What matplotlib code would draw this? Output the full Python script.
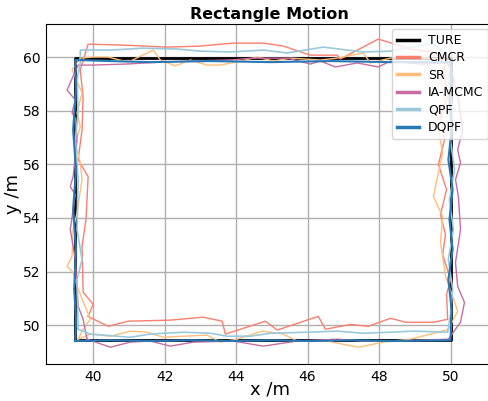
import numpy as np
from matplotlib import pyplot as plt

# true rectangle corners
ture_x = [39.5, 50.0, 50.0, 39.5, 39.5]
ture_y = [49.45, 49.45, 59.95, 59.95, 49.45]

# estimated tracks, one lap each (bottom -> right -> top -> left)
cmcr_x = [39.86, 40.42, 40.98, 42.16, 43.08, 43.61, 43.70, 44.82, 45.15, 46.30, 46.50, 47.20, 47.70, 48.32, 48.74, 49.52, 49.92,
          49.89, 50.00, 49.78, 49.86, 49.72, 49.89, 49.66, 49.83, 49.72, 49.94, 49.80, 49.86,
          49.44, 48.88, 47.98, 46.92, 46.83, 46.08, 45.32, 44.76, 43.92, 43.00, 42.07, 40.76, 39.86,
          39.64, 39.72, 39.69, 39.58, 39.86, 39.80, 39.69, 39.72, 40.00, 39.86]
cmcr_y = [50.33, 49.96, 50.15, 50.19, 50.30, 50.15, 49.67, 50.15, 49.82, 50.33, 49.85, 50.03, 49.96, 50.26, 50.11, 50.11, 50.22,
          51.15, 51.70, 52.64, 53.38, 54.13, 55.06, 55.99, 56.91, 57.84, 58.59, 59.33, 59.90,
          60.19, 60.30, 60.67, 59.93, 60.07, 60.07, 60.41, 60.52, 60.52, 60.41, 60.37, 60.45, 60.48,
          59.52, 58.51, 57.29, 56.17, 55.54, 53.94, 52.94, 51.23, 50.78, 50.33]

sr_x = [39.58, 39.92, 40.48, 41.04, 41.51, 41.96, 42.52, 43.19, 43.56, 44.03, 44.73, 45.32, 45.71, 46.55, 47.42, 48.12, 48.88, 49.66,
        49.94, 50.20, 50.06, 49.86, 49.72, 49.78, 49.52, 49.78, 49.66, 49.86, 49.72, 49.86,
        49.44, 48.32, 47.76, 47.56, 46.83, 46.36, 45.52, 45.04, 44.60, 44.12, 43.56, 43.19, 42.72, 42.30, 41.88, 41.68, 40.98, 40.42, 40.00, 39.64,
        39.41, 39.69, 39.55, 39.64, 39.50, 39.64, 39.69, 39.55, 39.44, 39.41, 39.27, 39.44, 39.55, 39.92, 39.72, 39.58]
sr_y = [49.48, 49.67, 49.59, 49.78, 49.74, 49.55, 49.59, 49.63, 49.37, 49.48, 49.78, 49.67, 49.41, 49.41, 49.18, 49.37, 49.48, 49.74,
        49.85, 50.52, 51.08, 51.82, 53.09, 54.05, 54.80, 56.43, 57.29, 58.22, 59.14, 59.89,
        59.96, 59.96, 59.78, 60.15, 59.96, 59.89, 59.96, 59.85, 60.00, 59.85, 59.70, 59.70, 59.89, 59.67, 59.89, 60.26, 59.81, 60.00, 60.00, 59.96,
        59.52, 58.66, 57.92, 57.40, 56.80, 56.06, 55.43, 54.20, 53.57, 52.57, 52.20, 51.97, 51.45, 50.22, 49.85, 49.48]

ia_x = [39.83, 40.48, 41.04, 41.60, 42.16, 42.80, 43.92, 44.76, 45.71, 46.83, 47.56, 48.32, 49.16, 49.94,
        50.28, 50.39, 50.20, 50.14, 50.28, 50.22, 50.14, 50.28, 50.20, 50.34, 50.22, 50.06, 49.92,
        49.16, 48.32, 47.98, 47.39, 46.78, 46.36, 46.08, 45.43, 44.48, 43.84, 42.80, 41.88, 40.95, 40.00, 39.58,
        39.27, 39.50, 39.41, 39.50, 39.55, 39.44, 39.36, 39.50, 39.36, 39.44, 39.50, 39.58, 39.72, 39.83]
ia_y = [49.48, 49.18, 49.37, 49.41, 49.22, 49.37, 49.41, 49.22, 49.41, 49.48, 49.41, 49.41, 49.44, 49.48,
        50.11, 50.85, 51.45, 52.34, 53.57, 54.80, 55.43, 56.06, 56.54, 57.29, 58.40, 59.33, 59.78,
        59.74, 59.85, 59.63, 59.78, 59.63, 59.85, 59.74, 59.96, 59.96, 59.89, 59.85, 59.81, 59.74, 59.70, 59.70,
        58.77, 58.40, 57.92, 57.73, 56.91, 55.54, 55.17, 54.87, 53.57, 52.94, 52.45, 50.71, 50.22, 49.48]

qpf_x = [39.58, 39.92, 41.04, 41.60, 42.52, 43.28, 43.75, 44.40, 44.96, 45.99, 46.83, 47.56, 48.32, 48.96, 49.92,
         50.00, 50.06, 49.94, 50.08, 49.97, 50.11, 50.00, 50.06, 49.94, 50.00,
         49.52, 48.32, 47.56, 47.11, 46.44, 45.43, 44.76, 43.84, 43.00, 42.35, 41.40, 40.48, 39.64,
         39.64, 39.55, 39.58, 39.50, 39.58, 39.55, 39.69, 39.55, 39.58]
qpf_y = [49.85, 49.67, 49.55, 49.67, 49.74, 49.70, 49.59, 49.59, 49.70, 49.74, 49.78, 49.70, 49.74, 49.78, 49.74,
         50.41, 51.34, 52.45, 53.57, 54.68, 55.80, 56.91, 58.03, 59.14, 59.89,
         60.52, 60.22, 60.19, 60.26, 60.37, 60.15, 60.26, 60.19, 60.22, 60.30, 60.33, 60.26, 60.26,
         59.78, 59.15, 57.92, 56.91, 55.43, 53.57, 52.45, 51.71, 49.85]

dqpf_x = [39.50, 40.48, 41.60, 42.72, 43.84, 44.96, 46.08, 47.20, 48.32, 50.00,
          50.03, 49.94, 50.06, 49.97, 50.06, 49.94, 50.03, 49.97, 50.03, 50.00,
          48.32, 46.64, 44.96, 43.28, 41.60, 40.48, 39.50,
          39.52, 39.44, 39.52, 39.44, 39.52, 39.47, 39.52, 39.50]
dqpf_y = [49.41, 49.44, 49.41, 49.44, 49.41, 49.44, 49.41, 49.44, 49.41, 49.44,
          50.59, 51.71, 52.83, 53.94, 55.06, 56.17, 57.29, 58.40, 59.33, 59.81,
          59.81, 59.85, 59.81, 59.85, 59.81, 59.85, 59.89,
          58.77, 57.29, 55.80, 54.31, 52.83, 51.34, 50.22, 49.41]

fig = plt.figure(figsize=(4.89, 4.01), dpi=100)
ax = fig.add_axes([0.094, 0.092, 0.915, 0.848])

ax.plot(ture_x, ture_y, color="black", lw=2, label="TURE")
ax.plot(cmcr_x, cmcr_y, color="#FA7F6F", lw=1, label="CMCR")
ax.plot(sr_x, sr_y, color="#FFBE7A", lw=1, label="SR")
ax.plot(ia_x, ia_y, color="#C76DA2", lw=1, label="IA-MCMC")
ax.plot(qpf_x, qpf_y, color="#9AC9DB", lw=1.2, label="QPF")
ax.plot(dqpf_x, dqpf_y, color="#2878B5", lw=1.5, label="DQPF")

ax.set_xlim(38.68, 51.2)
ax.set_ylim(48.55, 61.23)
ax.set_xticks(np.arange(40, 51, 2))
ax.set_yticks(np.arange(50, 61, 2))
ax.tick_params(labelsize=10, length=0, pad=4)
ax.grid(True, color="#b0b0b0", lw=1)
ax.set_xlabel("x /m", fontsize=13)
ax.set_ylabel("y /m", fontsize=13)
ax.xaxis.set_label_coords(0.5, -0.048)
ax.yaxis.set_label_coords(-0.054, 0.5)
ax.set_title("Rectangle Motion", fontsize=11.5, fontweight="bold", pad=4)
leg = ax.legend(loc="upper right", fontsize=9, handlelength=1.8, handletextpad=0.7,
                labelspacing=0.35, borderaxespad=0.4)
for line in leg.get_lines():
    line.set_linewidth(2.5)

fig.savefig("out.png", dpi=100)
